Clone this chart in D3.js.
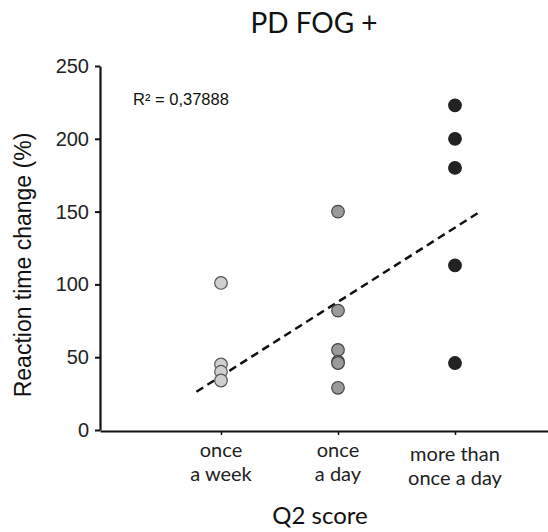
<!DOCTYPE html>
<html>
<head>
<meta charset="utf-8">
<script src="https://cdn.jsdelivr.net/npm/d3@7"></script>
<style>
  body { margin: 0; background: #fff; }
  .tick text { fill: #222; }
</style>
</head>
<body>
<div id="viz"></div>
<script>
// data
var categories = ['once|a week', 'once|a day', 'more than|once a day'];
var weekValues = [101, 45, 40, 34];
var dayValues = [150, 82, 55, 47, 46, 29];
var moreValues = [223, 200, 180, 113, 46];
var yTicks = [0, 50, 100, 150, 200, 250];
var trend = {x0: 0.79, x1: 3.2, slope: 51, intercept: -14};
var r2Label = 'R\u00B2 = 0,37888';

var width = 548, height = 532;

var svg = d3.select('#viz').append('svg')
  .attr('width', width)
  .attr('height', height);

// x: category index 1..3
var x = d3.scaleLinear()
  .domain([1 - 121 / 117, 1 + 327 / 117])
  .range([100, 548]);

var y = d3.scaleLinear()
  .domain([0, 250])
  .range([430, 66]);

// title
svg.append('text')
  .attr('x', 314).attr('y', 33)
  .attr('text-anchor', 'middle')
  .style('font-family', 'Lato, sans-serif')
  .style('font-size', '28px')
  .attr('fill', '#111')
  .text('PD FOG +');

// y axis
var yAxis = svg.append('g')
  .attr('transform', 'translate(100,0)')
  .call(d3.axisLeft(y).tickValues(yTicks).tickSize(5).tickSizeOuter(0).tickPadding(6));
yAxis.select('.domain').attr('stroke', '#111').attr('stroke-width', 2.2);
yAxis.selectAll('.tick line').attr('stroke', '#111').attr('stroke-width', 2);
yAxis.selectAll('.tick text')
  .style('font-family', '"Liberation Sans", Arial, sans-serif')
  .style('font-size', '20px');

// x axis
var xAxis = svg.append('g')
  .attr('transform', 'translate(0,431)')
  .call(d3.axisBottom(x).tickValues([1, 2, 3]).tickSize(4).tickSizeOuter(0).tickFormat(''));
xAxis.select('.domain').attr('stroke', '#111').attr('stroke-width', 2.2);
xAxis.selectAll('.tick line').attr('stroke', '#111').attr('stroke-width', 1.5);

// category labels (two lines)
categories.forEach(function(c, i) {
  var lines = c.split('|');
  var t = svg.append('text')
    .attr('text-anchor', 'middle')
    .style('font-family', 'Lato, sans-serif')
    .style('font-size', '20px')
    .attr('fill', '#222');
  var base = i === 2 ? 461 : 457;
  lines.forEach(function(l, j) {
    t.append('tspan')
      .attr('x', x(i + 1))
      .attr('y', base + j * 23.5)
      .text(l);
  });
});

// axis titles
svg.append('text')
  .attr('x', 320).attr('y', 524)
  .attr('text-anchor', 'middle')
  .style('font-family', 'Lato, sans-serif')
  .style('font-size', '24px')
  .attr('fill', '#111')
  .text('Q2 score');

svg.append('text')
  .attr('transform', 'translate(31,' + 265 + ') rotate(-90)')
  .attr('text-anchor', 'middle')
  .style('font-family', '"Liberation Sans", Arial, sans-serif')
  .style('font-size', '23px')
  .attr('fill', '#111')
  .text('Reaction time change (%)');

// R2 label
svg.append('text')
  .attr('x', 133).attr('y', 105)
  .style('font-family', '"Liberation Sans", Arial, sans-serif')
  .style('font-size', '16.5px')
  .attr('fill', '#111')
  .text(r2Label);

// trend line
svg.append('line')
  .attr('x1', x(trend.x0)).attr('y1', y(trend.intercept + trend.slope * trend.x0))
  .attr('x2', x(trend.x1)).attr('y2', y(trend.intercept + trend.slope * trend.x1))
  .attr('stroke', '#111')
  .attr('stroke-width', 2.5)
  .attr('stroke-dasharray', '8,5');

// points
var groups = [
  {k: 1, values: weekValues, fill: '#cfcfcf', stroke: '#555'},
  {k: 2, values: dayValues, fill: '#9a9a9a', stroke: '#444'},
  {k: 3, values: moreValues, fill: '#222', stroke: '#222'}
];
groups.forEach(function(g) {
  svg.append('g').selectAll('circle')
    .data(g.values)
    .join('circle')
    .attr('cx', x(g.k))
    .attr('cy', d => y(d))
    .attr('r', 6.3)
    .attr('fill', g.fill)
    .attr('stroke', g.stroke)
    .attr('stroke-width', 1.2);
});
</script>
</body>
</html>
